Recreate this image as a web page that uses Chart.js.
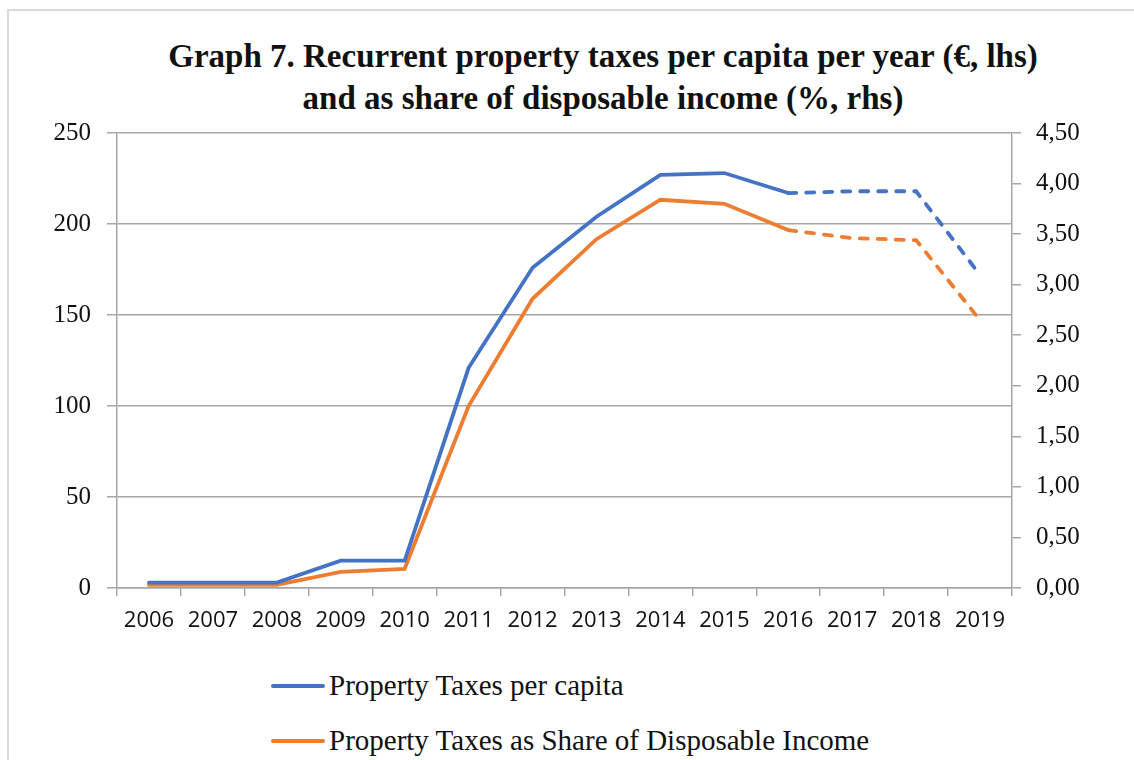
<!DOCTYPE html>
<html>
<head>
<meta charset="utf-8">
<script src="https://cdn.jsdelivr.net/npm/chart.js@4"></script>
<style>
  body { margin: 0; width: 1134px; height: 760px; overflow: hidden; background: #fff; position: relative; }
  #frame { position: absolute; left: 7px; top: 9px; width: 1200px; height: 800px;
           border-left: 2px solid #d9d9d9; border-top: 2px solid #d9d9d9; }
  #title { position: absolute; left: 0; top: 35px; width: 1206px; text-align: center;
           font: bold 33px "Liberation Serif", serif; line-height: 42px; color: #111; }
  #wrap { position: absolute; left: 0; top: 0; width: 1134px; height: 650px; }
  #legend { position: absolute; left: 271px; top: 658px; font: 29px "Liberation Serif", serif; color: #111; }
  .item { display: flex; align-items: center; height: 55px; }
  .swatch { width: 54px; height: 4px; border-radius: 2px; margin-right: 4px; }
</style>
</head>
<body>
<div id="frame"></div>
<div id="title">Graph 7. Recurrent property taxes per capita per year (€, lhs)<br>and as share of disposable income (%, rhs)</div>
<div id="wrap"><canvas id="chart"></canvas></div>
<div id="legend"></div>
<script>
// datos
const years = ['2006', '2007', '2008', '2009', '2010', '2011', '2012', '2013', '2014', '2015', '2016', '2017', '2018', '2019'];
const perCapita = [3, 3, 3, 15, 15, 121, 176, 204, 227, 228, 217, 218, 218, 172];
const shareIncome = [0.03, 0.03, 0.03, 0.16, 0.19, 1.80, 2.86, 3.45, 3.84, 3.80, 3.54, 3.46, 3.44, 2.65];
const leftTicks = [0, 50, 100, 150, 200, 250];
const rightTicks = [0, 0.5, 1, 1.5, 2, 2.5, 3, 3.5, 4, 4.5];
const forecastFrom = 10; // desde 2016 la línea es discontinua

const BLUE = '#4472c4';
const ORANGE = '#ed7d31';
const GRID = '#a6a6a6';

const dashAfter = ctx => ctx.p0DataIndex >= forecastFrom ? [8, 10] : undefined;

const chart = new Chart(document.getElementById('chart'), {
    type: 'line',
    data: {
        labels: years,
        datasets: [{
            label: 'Property Taxes per capita',
            data: perCapita,
            borderColor: BLUE,
            backgroundColor: BLUE,
            borderWidth: 3.8,
            borderCapStyle: 'round',
            pointRadius: 0,
            tension: 0,
            yAxisID: 'y',
            segment: { borderDash: dashAfter }
        }, {
            label: 'Property Taxes as Share of Disposable Income',
            data: shareIncome,
            borderColor: ORANGE,
            backgroundColor: ORANGE,
            borderWidth: 3.8,
            borderCapStyle: 'round',
            pointRadius: 0,
            tension: 0,
            yAxisID: 'y1',
            segment: { borderDash: dashAfter }
        }]
    },
    options: {
        responsive: true,
        maintainAspectRatio: false,
        animation: false,
        layout: { padding: { top: 133, left: 0, right: 0, bottom: 0 } },
        plugins: {
            legend: { display: false },
            title: { display: false },
            tooltip: { enabled: false }
        },
        scales: {
            x: {
                offset: true,
                grid: { display: true, drawOnChartArea: false, offset: true, tickLength: 8, color: GRID, lineWidth: 1.5 },
                border: { color: GRID, width: 1.5 },
                ticks: { maxRotation: 0, autoSkip: false, padding: 12, color: '#111',
                         font: { family: '"Open Sans", sans-serif', size: 22 } },
                afterFit: s => { s.height = 62; }
            },
            y: {
                position: 'left',
                min: 0, max: 250,
                afterBuildTicks: s => { s.ticks = leftTicks.map(v => ({ value: v })); },
                grid: { color: GRID, lineWidth: 1.5, tickLength: 10 },
                border: { color: GRID, width: 1.5 },
                ticks: { padding: 16, color: '#111', font: { family: '"Liberation Serif", serif', size: 25 } },
                afterFit: s => { s.width = 117; }
            },
            y1: {
                position: 'right',
                min: 0, max: 4.5,
                afterBuildTicks: s => { s.ticks = rightTicks.map(v => ({ value: v })); },
                grid: { drawOnChartArea: false, color: GRID, lineWidth: 1.5, tickLength: 9 },
                border: { color: GRID, width: 1.5 },
                ticks: { padding: 15, color: '#111', font: { family: '"Liberation Serif", serif', size: 25 },
                         callback: v => v.toFixed(2).replace('.', ',') },
                afterFit: s => { s.width = 122; }
            }
        }
    }
});

// leyenda vertical en HTML
const legend = document.getElementById('legend');
chart.data.datasets.forEach(ds => {
    const row = document.createElement('div');
    row.className = 'item';
    row.innerHTML = `<span class="swatch" style="background:${ds.borderColor}"></span><span>${ds.label}</span>`;
    legend.appendChild(row);
});
</script>
</body>
</html>
